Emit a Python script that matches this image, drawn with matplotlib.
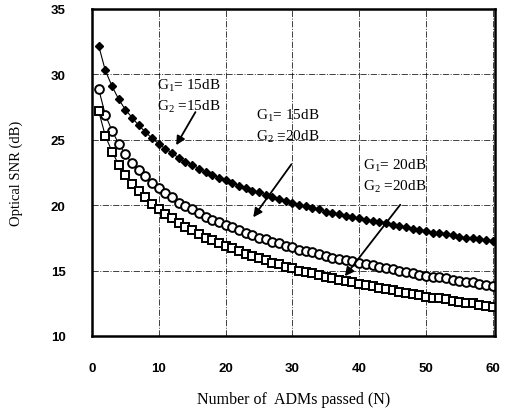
import numpy as np
import matplotlib
matplotlib.use("Agg")
import matplotlib.pyplot as plt

plt.rcParams['mathtext.fontset'] = 'custom'
plt.rcParams['mathtext.rm'] = 'Liberation Serif'
plt.rcParams['mathtext.it'] = 'Liberation Serif:italic'

# Number of ADMs passed
n_adm = list(range(1, 61))

# G1 = 15dB, G2 = 15dB (filled diamonds)
snr_15_15 = [32.2, 30.3, 29.1, 28.1, 27.3, 26.7, 26.1, 25.6, 25.1, 24.7,
             24.3, 24.0, 23.6, 23.3, 23.1, 22.8, 22.5, 22.3, 22.1, 21.9,
             21.7, 21.5, 21.3, 21.1, 21.0, 20.8, 20.6, 20.5, 20.3, 20.2,
             20.0, 19.9, 19.8, 19.7, 19.5, 19.4, 19.3, 19.2, 19.1, 19.0,
             18.9, 18.8, 18.7, 18.6, 18.5, 18.4, 18.3, 18.2, 18.1, 18.0,
             17.9, 17.9, 17.8, 17.7, 17.6, 17.5, 17.5, 17.4, 17.3, 17.25]

# G1 = 15dB, G2 = 20dB (open circles)
snr_15_20 = [28.9, 26.9, 25.7, 24.7, 23.9, 23.2, 22.7, 22.2, 21.7, 21.3,
             20.9, 20.6, 20.2, 19.9, 19.7, 19.4, 19.1, 18.9, 18.7, 18.5,
             18.3, 18.1, 17.9, 17.7, 17.5, 17.4, 17.2, 17.1, 16.9, 16.8,
             16.6, 16.5, 16.4, 16.3, 16.1, 16.0, 15.9, 15.8, 15.7, 15.6,
             15.5, 15.4, 15.3, 15.2, 15.1, 15.0, 14.9, 14.8, 14.7, 14.6,
             14.5, 14.5, 14.4, 14.3, 14.2, 14.1, 14.1, 14.0, 13.9, 13.85]

# G1 = 20dB, G2 = 20dB (open squares)
snr_20_20 = [27.2, 25.3, 24.1, 23.1, 22.3, 21.6, 21.1, 20.6, 20.1, 19.7,
             19.3, 19.0, 18.6, 18.3, 18.1, 17.8, 17.5, 17.3, 17.1, 16.9,
             16.7, 16.5, 16.3, 16.1, 15.95, 15.8, 15.6, 15.5, 15.3, 15.2,
             15.0, 14.9, 14.8, 14.7, 14.5, 14.4, 14.3, 14.2, 14.1, 14.0,
             13.9, 13.8, 13.7, 13.6, 13.5, 13.4, 13.3, 13.2, 13.1, 13.0,
             12.9, 12.9, 12.8, 12.7, 12.6, 12.5, 12.5, 12.4, 12.3, 12.25]

x_ticks = [0, 10, 20, 30, 40, 50, 60]
y_ticks = [10, 15, 20, 25, 30, 35]

fig = plt.figure(figsize=(5.08, 4.14), dpi=100)
ax = fig.add_axes([0.181, 0.186, 0.793, 0.790])

ax.plot(n_adm, snr_15_15, color='black', lw=0.8, marker='D', ms=4.4,
        mfc='black', mec='black')
ax.plot(n_adm, snr_15_20, color='black', lw=0.8, marker='o', ms=6.3,
        mfc='white', mec='black', mew=1.4)
ax.plot(n_adm, snr_20_20, color='black', lw=0.8, marker='s', ms=5.5,
        mfc='white', mec='black', mew=1.4)

ax.set_xlim(0, 60.3)
ax.set_ylim(10, 35)
ax.set_xticks(x_ticks)
ax.set_yticks(y_ticks)
ax.grid(True, color='black', ls='-.', lw=0.7, alpha=0.75)
ax.set_axisbelow(True)

for s in ax.spines.values():
    s.set_linewidth(1.8)

ax.tick_params(length=0, pad=19)
ax.tick_params(axis='x', pad=19)
for lab in ax.get_xticklabels() + ax.get_yticklabels():
    lab.set_fontfamily('Liberation Sans')
    lab.set_fontweight('bold')
    lab.set_fontsize(9.5)

serif = 'Liberation Serif'
ax.set_xlabel('Number of  ADMs passed (N)', fontfamily=serif, fontsize=11.5,
              labelpad=12)
ax.set_ylabel('Optical SNR (dB)', fontfamily=serif, fontsize=10.5,
              labelpad=20)

ax.text(9.8, 29.2, 'G$_1$= 15dB', fontfamily=serif, fontsize=11, va='center')
ax.text(9.8, 27.6, 'G$_2$ =15dB', fontfamily=serif, fontsize=11, va='center')
ax.text(24.6, 26.9, 'G$_1$= 15dB', fontfamily=serif, fontsize=11, va='center')
ax.text(24.6, 25.3, 'G$_2$ =20dB', fontfamily=serif, fontsize=11, va='center')
ax.text(40.6, 23.1, 'G$_1$= 20dB', fontfamily=serif, fontsize=11, va='center')
ax.text(40.6, 21.5, 'G$_2$ =20dB', fontfamily=serif, fontsize=11, va='center')

arrow = dict(arrowstyle='-|>', color='black', lw=1.3, mutation_scale=13)
ax.annotate('', xy=(12.4, 24.4), xytext=(15.7, 27.3), arrowprops=arrow)
ax.annotate('', xy=(23.9, 18.9), xytext=(30.1, 23.3), arrowprops=arrow)
ax.annotate('', xy=(37.6, 14.4), xytext=(46.4, 20.2), arrowprops=arrow)

fig.savefig('out.png', dpi=100)
